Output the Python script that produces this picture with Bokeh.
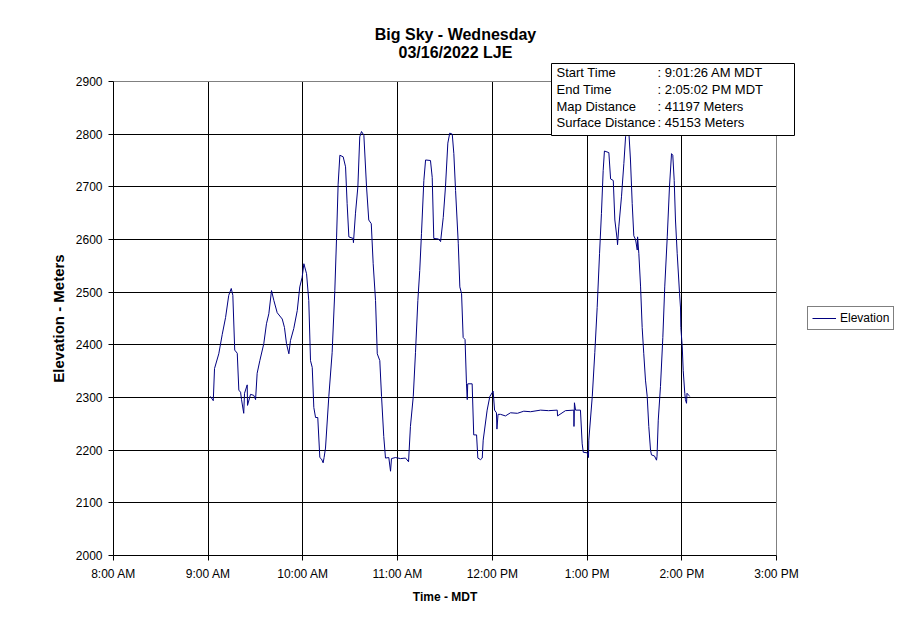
from bokeh.plotting import figure
from bokeh.models import (Range1d, FixedTicker, Label, BoxAnnotation, Legend,
                          LegendItem, Grid)
from bokeh.embed import file_html
from bokeh.resources import INLINE

# ---------------- data ----------------
# time of day in minutes after midnight
time_minutes = [
    541.4, 543.2, 544.0, 546.7, 548.9, 551.0, 553.0, 554.6, 555.6, 556.8,
    558.4, 559.4, 560.5, 561.1, 562.5, 563.0, 564.7, 564.9, 566.8, 568.9,
    570.0, 571.0, 572.7, 575.2, 576.9, 578.4, 580.1, 581.6, 583.7, 586.9,
    588.3, 589.6, 591.1, 592.1, 594.2, 596.4, 598.0, 599.5, 600.6, 602.3,
    603.7, 604.8, 605.9, 606.9, 608.0, 609.4, 610.7, 611.8, 612.8, 613.4,
    614.3, 616.4, 618.5, 620.2, 621.3, 622.3, 623.4, 625.5, 627.0, 628.0,
    629.1, 631.8, 632.0, 633.3, 634.8, 636.0, 637.1, 638.6, 640.3, 641.7,
    643.3, 644.5, 646.0, 647.1, 648.7, 649.8, 651.2, 652.3, 654.4, 655.5,
    656.1, 658.6, 661.8, 665.0, 666.9, 668.1, 669.9, 671.3, 672.8, 674.0,
    675.1, 676.6, 677.7, 680.8, 681.9, 682.9, 685.9, 687.2, 688.9, 690.3,
    691.8, 693.0, 694.6, 695.6, 696.7, 698.4, 699.4, 700.5, 701.5, 702.7,
    703.6, 704.1, 704.4, 707.2, 708.2, 710.0, 710.8, 712.5, 713.6, 714.2,
    716.7, 718.4, 720.5, 721.4, 722.6, 722.9, 723.6, 725.2, 728.3, 731.5,
    735.9, 739.9, 744.2, 750.5, 755.6, 761.1, 761.3, 766.3, 771.6, 771.7,
    772.0, 772.7, 775.8, 776.9, 777.6, 780.1, 780.9, 781.1, 783.3, 784.9,
    786.4, 787.9, 789.1, 790.2, 791.0, 793.8, 794.9, 796.6, 797.6, 799.1,
    799.3, 800.1, 801.8, 803.3, 804.4, 805.4, 806.4, 807.5, 808.6, 809.6,
    810.7, 811.8, 812.0, 812.8, 813.9, 814.9, 815.9, 817.0, 818.1, 819.1,
    820.2, 820.8, 822.7, 824.0, 824.3, 825.1, 826.5, 828.0, 829.2, 830.8,
    832.2, 833.5, 834.3, 835.2, 836.0, 837.1, 838.6, 839.2, 839.4, 840.3,
    840.9, 841.9, 842.3, 843.0, 843.3, 844.5, 845.0,
]

elevation_m = [
    2302, 2294, 2355, 2383, 2420, 2452, 2494, 2507, 2494, 2390,
    2384, 2314, 2310, 2296, 2270, 2308, 2324, 2285, 2306, 2304,
    2296, 2346, 2370, 2402, 2440, 2459, 2503, 2484, 2461, 2449,
    2433, 2402, 2383, 2408, 2431, 2465, 2510, 2528, 2554, 2535,
    2484, 2370, 2357, 2281, 2262, 2262, 2186, 2183, 2176, 2186,
    2204, 2302, 2385, 2503, 2603, 2705, 2760, 2757, 2738, 2668,
    2605, 2602, 2594, 2650, 2700, 2795, 2805, 2798, 2700, 2637,
    2630, 2554, 2484, 2383, 2370, 2302, 2226, 2185, 2186, 2160,
    2184, 2186, 2184, 2185, 2178, 2245, 2302, 2385, 2484, 2541,
    2611, 2712, 2751, 2750, 2718, 2602, 2601, 2596, 2642, 2700,
    2783, 2802, 2800, 2763, 2693, 2593, 2510, 2497, 2414, 2410,
    2327, 2296, 2326, 2326, 2229, 2229, 2185, 2182, 2185, 2219,
    2276, 2302, 2312, 2276, 2271, 2240, 2268, 2268, 2265, 2271,
    2270, 2274, 2273, 2276, 2275, 2276, 2265, 2275, 2276, 2245,
    2290, 2276, 2276, 2212, 2196, 2195, 2186, 2219, 2302, 2385,
    2471, 2573, 2649, 2731, 2768, 2765, 2715, 2712, 2637, 2599,
    2590, 2624, 2681, 2744, 2795, 2818, 2808, 2751, 2668, 2607,
    2600, 2580, 2605, 2573, 2510, 2433, 2384, 2333, 2302, 2245,
    2200, 2191, 2189, 2181, 2188, 2257, 2321, 2414, 2510, 2605,
    2700, 2763, 2760, 2712, 2637, 2573, 2497, 2470, 2433, 2396,
    2351, 2308, 2296, 2289, 2308, 2304, 2302,
]

x_tick_hours = [8, 9, 10, 11, 12, 13, 14, 15]
x_tick_labels = ["8:00 AM", "9:00 AM", "10:00 AM", "11:00 AM",
                 "12:00 PM", "1:00 PM", "2:00 PM", "3:00 PM"]
y_ticks = [2000, 2100, 2200, 2300, 2400, 2500, 2600, 2700, 2800, 2900]

title_lines = ["Big Sky - Wednesday", "03/16/2022 LJE"]
info_keys = ["Start Time", "End Time", "Map Distance", "Surface Distance"]
info_vals = [": 9:01:26 AM MDT", ": 2:05:02 PM MDT", ": 41197 Meters", ": 45153 Meters"]
series_name = "Elevation"

# ---------------- layout ----------------
FONT = "Liberation Sans"
W, H = 895, 607
# plot-area edges in canvas pixels
PA_LEFT, PA_RIGHT, PA_TOP, PA_BOTTOM = 113, 776, 81, 555

x_ticks = [h * 60 for h in x_tick_hours]
x0, x1 = x_ticks[0], x_ticks[-1]
y0, y1 = y_ticks[0], y_ticks[-1]
xs = (x1 - x0) / (PA_RIGHT - PA_LEFT)      # data units per pixel
ys = (y1 - y0) / (PA_BOTTOM - PA_TOP)

# the frame covers the whole canvas so that annotations outside the
# plot area (title, info box, legend) are not clipped; the axes are
# pinned to the plot-area edges with fixed_location.
p = figure(width=W, height=H, output_backend="svg", toolbar_location=None,
           x_range=Range1d(x0 - PA_LEFT * xs, x1 + (W - PA_RIGHT) * xs),
           y_range=Range1d(y0 - (H - PA_BOTTOM) * ys, y1 + PA_TOP * ys),
           min_border=0)
p.background_fill_color = "white"
p.border_fill_color = "white"
p.outline_line_color = None

has_cross = "cross_bounds" in Grid.properties()

# grid (interior lines)
p.xgrid.ticker = FixedTicker(ticks=x_ticks[1:-1])
p.ygrid.ticker = FixedTicker(ticks=y_ticks[1:-1])
p.xgrid.grid_line_color = "black"
p.ygrid.grid_line_color = "black"
if has_cross:
    p.xgrid.cross_bounds = (y0, y1)
    p.ygrid.cross_bounds = (x0, x1)
    # grey plot-area border (top and right)
    p.add_layout(Grid(dimension=1, ticker=FixedTicker(ticks=[y1]),
                      cross_bounds=(x0, x1), grid_line_color="#808080"))
    p.add_layout(Grid(dimension=0, ticker=FixedTicker(ticks=[x1]),
                      cross_bounds=(y0, y1), grid_line_color="#808080"))

# axes
p.xaxis.fixed_location = y0
p.yaxis.fixed_location = x0
p.xaxis.bounds = (x0, x1)
p.yaxis.bounds = (y0, y1)
p.xaxis.ticker = FixedTicker(ticks=x_ticks)
p.xaxis.major_label_overrides = {t: lbl for t, lbl in zip(x_ticks, x_tick_labels)}
p.yaxis.ticker = FixedTicker(ticks=y_ticks)
for ax in (p.xaxis[0], p.yaxis[0]):
    ax.axis_line_color = "black"
    ax.major_tick_line_color = "black"
    ax.major_tick_in = 0
    ax.major_tick_out = 5
    ax.minor_tick_line_color = None
    ax.major_label_text_font = FONT
    ax.major_label_text_font_size = "12px"
    ax.major_label_text_color = "black"
    ax.axis_label_text_font = FONT
    ax.axis_label_text_font_style = "bold"
    ax.axis_label_text_color = "black"

p.xaxis.axis_label = "Time - MDT"
p.xaxis.axis_label_text_font_size = "12px"
p.xaxis.major_label_standoff = 6
p.xaxis.axis_label_standoff = 6

p.yaxis.axis_label = "Elevation - Meters"
p.yaxis.axis_label_text_font_size = "15px"
p.yaxis.major_label_standoff = 6
p.yaxis.axis_label_standoff = 6

# line
r = p.line(time_minutes, elevation_m, line_color="#000080", line_width=1)

legend = Legend(items=[LegendItem(label=series_name, renderers=[r])],
                location=(807, H - 330))
legend.border_line_color = "black"
legend.border_line_width = 1
legend.background_fill_color = "white"
legend.background_fill_alpha = 1
legend.padding = 4
legend.margin = 0
legend.spacing = 0
legend.glyph_width = 24
legend.glyph_height = 14
legend.label_height = 14
legend.label_standoff = 4
legend.label_text_font = FONT
legend.label_text_font_size = "12px"
legend.label_text_color = "black"
p.add_layout(legend)

# title (two centred lines)
for i, t in enumerate(title_lines):
    p.add_layout(Label(x=455, y=34 + 18 * i, x_units="canvas", y_units="canvas",
                       text=t, text_align="center", text_baseline="alphabetic",
                       text_font=FONT, text_font_size="16px",
                       text_font_style="bold", text_color="black"))

# info box
p.add_layout(BoxAnnotation(left=551, right=794, top=63, bottom=135,
                           left_units="canvas", right_units="canvas",
                           top_units="canvas", bottom_units="canvas",
                           fill_color="white", fill_alpha=1,
                           line_color="black", line_width=1, line_alpha=1))
for i, (k, v) in enumerate(zip(info_keys, info_vals)):
    yb = 72 + 16.8 * i
    p.add_layout(Label(x=556, y=yb, x_units="canvas", y_units="canvas", text=k,
                       text_baseline="alphabetic", text_font=FONT,
                       text_font_size="13px", text_color="black"))
    p.add_layout(Label(x=657, y=yb, x_units="canvas", y_units="canvas", text=v,
                       text_baseline="alphabetic", text_font=FONT,
                       text_font_size="13px", text_color="black"))

open("out.html", "w").write(file_html(p, INLINE))
